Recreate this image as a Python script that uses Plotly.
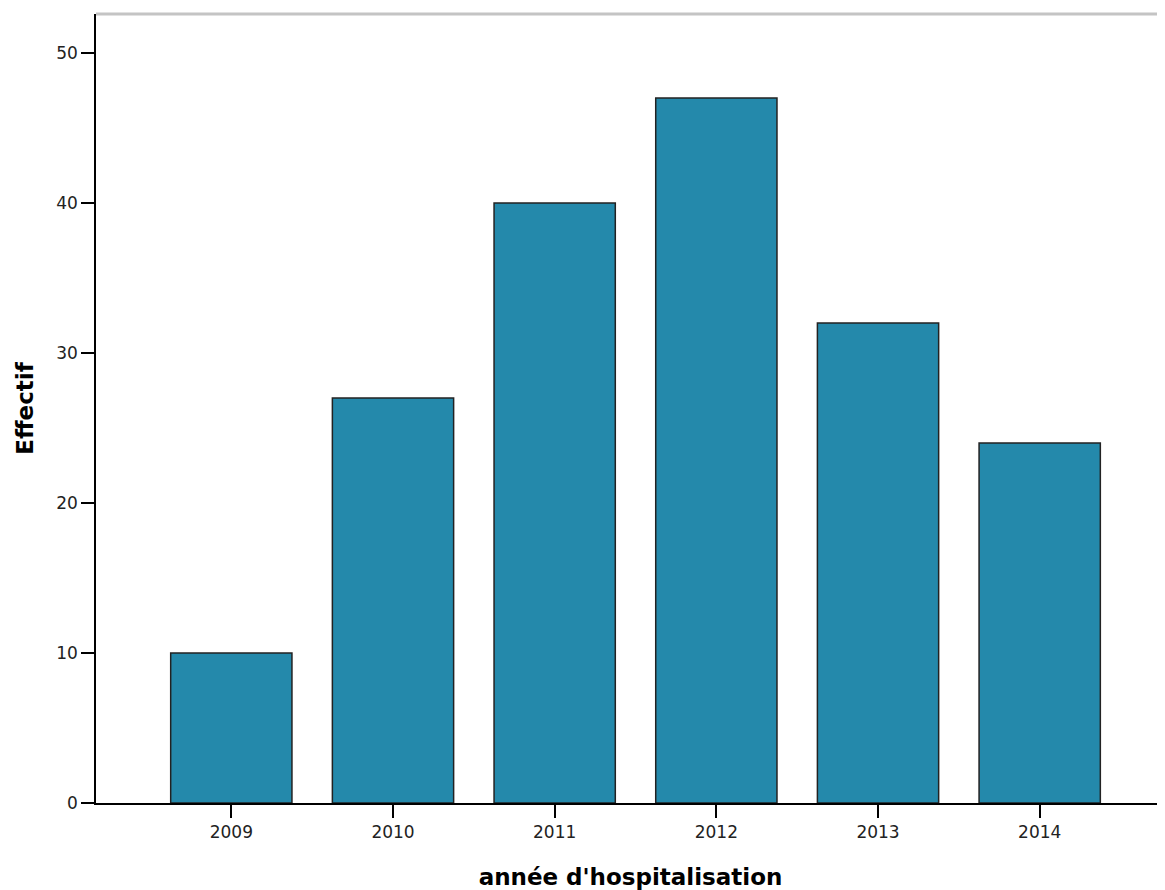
import plotly.graph_objects as go

years = ["2009", "2010", "2011", "2012", "2013", "2014"]
counts = [10, 27, 40, 47, 32, 24]
y_ticks = [0, 10, 20, 30, 40, 50]

x_title = "année d'hospitalisation"
y_title = "Effectif"

fig = go.Figure()
fig.add_trace(go.Bar(
    x=years, y=counts, width=0.75,
    marker=dict(color="#2489ab", line=dict(color="#222222", width=1.5)),
    hoverinfo="x+y",
))

# page body has ~8px default margin, so figure is shrunk/shifted to compensate
fig.update_layout(
    width=1157, height=882,
    margin=dict(l=88, r=0, t=6, b=87),
    plot_bgcolor="white", paper_bgcolor="white",
    showlegend=False,
    font=dict(family="DejaVu Sans", size=17, color="#222222"),
    shapes=[dict(type="line", xref="paper", yref="paper", x0=0, x1=1, y0=1, y1=1,
                 line=dict(color="#c4c4c4", width=3))],
)
fig.update_xaxes(
    type="category", range=[-0.837, 5.775],
    showline=True, linecolor="black", linewidth=1.5,
    ticks="outside", ticklen=13, tickwidth=1.5, tickcolor="black",
    showgrid=False, zeroline=False,
    tickfont=dict(family="DejaVu Sans", size=17, color="#222222"),
    title=dict(text=x_title, font=dict(family="DejaVu Sans", size=23, color="black", weight="bold"),
               standoff=28),
    automargin=False,
)
fig.update_yaxes(
    range=[0, 52.6], tickvals=y_ticks,
    showline=True, linecolor="black", linewidth=1.5,
    ticks="outside", ticklen=13, tickwidth=1.5, tickcolor="black",
    showgrid=False, zeroline=False,
    tickfont=dict(family="DejaVu Sans", size=17, color="#222222"),
    title=dict(text=y_title, font=dict(family="DejaVu Sans", size=23, color="black", weight="bold"),
               standoff=16),
    automargin=False,
)

fig.write_html("out.html")
